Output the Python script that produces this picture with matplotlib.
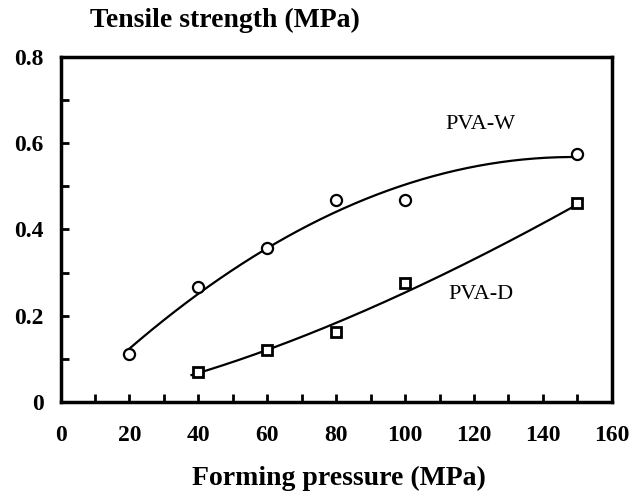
import numpy as np
import matplotlib
matplotlib.use("Agg")
import matplotlib.pyplot as plt
from matplotlib.ticker import MultipleLocator

# data
pressure_w = [20, 40, 60, 80, 100, 150]
strength_w = [0.11, 0.266, 0.356, 0.468, 0.468, 0.576]
pressure_d = [40, 60, 80, 100, 150]
strength_d = [0.069, 0.12, 0.161, 0.276, 0.462]

plt.rcParams['font.family'] = 'Liberation Serif'

fig = plt.figure(figsize=(6.31, 4.94), dpi=100)
ax = fig.add_axes([0.096, 0.187, 0.8735, 0.697])

# trend lines: quadratic for PVA-W, power law for PVA-D
fit_w = np.polyfit(pressure_w, strength_w, 2)
xs_w = np.linspace(20, 150, 200)
ax.plot(xs_w, np.polyval(fit_w, xs_w), color='black', lw=1.6)
fit_d = np.polyfit(np.log(pressure_d), np.log(strength_d), 1)
xs_d = np.linspace(38, 150, 200)
ax.plot(xs_d, np.exp(np.polyval(fit_d, np.log(xs_d))), color='black', lw=1.6)

ax.plot(pressure_w, strength_w, 'o', mfc='white', mec='black', ms=8, mew=1.6)
ax.plot(pressure_d, strength_d, 's', mfc='white', mec='black', ms=7.5, mew=2)

ax.text(122, 0.643, 'PVA-W', fontsize=16, ha='center', va='center')
ax.text(122, 0.25, 'PVA-D', fontsize=16, ha='center', va='center')

ax.set_xlim(0, 160)
ax.set_ylim(0, 0.8)
ax.xaxis.set_major_locator(MultipleLocator(20))
ax.xaxis.set_minor_locator(MultipleLocator(10))
ax.set_yticks([0, 0.2, 0.4, 0.6, 0.8])
ax.set_yticklabels(['0', '0.2', '0.4', '0.6', '0.8'])
ax.yaxis.set_minor_locator(MultipleLocator(0.1))

ax.tick_params(which='both', direction='in', length=6, width=2,
               labelsize=17)
ax.tick_params(axis='x', which='both', pad=17)
ax.tick_params(axis='y', which='both', pad=12)
for lab in ax.get_xticklabels() + ax.get_yticklabels():
    lab.set_fontweight('bold')
for sp in ax.spines.values():
    sp.set_linewidth(2.5)

fig.text(0.357, 0.958, 'Tensile strength (MPa)', fontsize=20,
         fontweight='bold', ha='center', va='center')
fig.text(0.537, 0.032, 'Forming pressure (MPa)', fontsize=20,
         fontweight='bold', ha='center', va='center')

fig.savefig('out.png', dpi=100)
